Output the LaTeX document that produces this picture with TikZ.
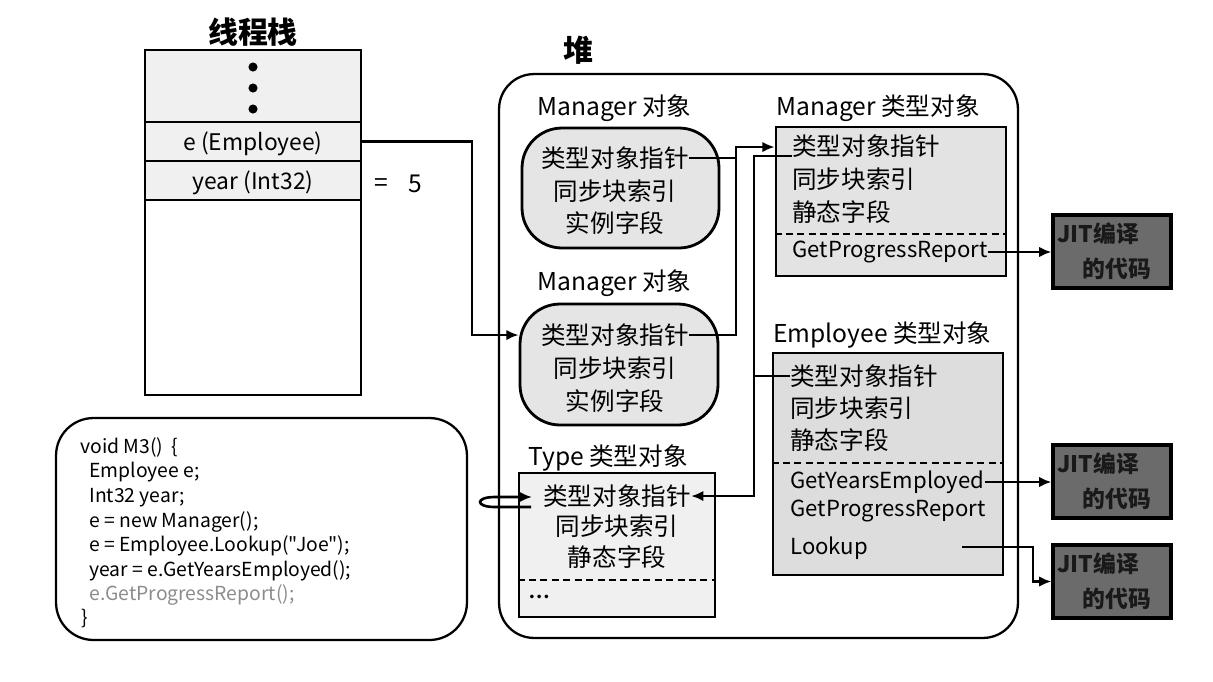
\documentclass[tikz,border=0pt]{standalone}
\usepackage{fontspec}
\setmainfont{Noto Sans CJK SC}
\newfontfamily\codefont[Ligatures=TeXOff]{Noto Sans CJK SC}
\newfontfamily\dotfont{DejaVu Sans}
\usepackage{xcolor}
\usepackage{tikz}
\usetikzlibrary{arrows.meta}

\begin{document}
\begin{tikzpicture}[x=0.02cm, y=-0.02cm, >={Latex[length=7pt,width=6pt]},
    font=\fontsize{14}{16}\selectfont,
    every node/.style={inner sep=0pt},
    title/.style={font=\fontsize{17}{20}\selectfont\bfseries},
    cell/.style={draw, line width=1.6pt, fill=gray!12, minimum width=4.32cm},
    objbox/.style={draw, line width=1.6pt, fill=gray!20, rounded corners=0.8cm},
    typebox/.style={draw, line width=1.6pt, fill=gray!22, minimum width=4.6cm},
    method/.style={anchor=west, font=\fontsize{12.6}{15}\selectfont},
    jitbox/.style={draw, line width=1.8pt, fill=black!58, minimum width=2.36cm, minimum height=1.46cm},
    jittext/.style={align=left, font=\fontsize{13}{20}\selectfont\bfseries, text=black!90},
    sep/.style={dashed, dash pattern=on 4pt off 2.5pt, line width=1.4pt},
    ptr/.style={->, line width=1.5pt},
    code/.style={anchor=base west, font=\codefont\fontsize{11}{13}\selectfont}]
  \useasboundingbox (0,0) rectangle (1213,681);

  % thread stack
  \node [title] (stacktitle) at (253,32) {线程栈};
  \node [draw, line width=1.6pt, fill=white, minimum width=4.32cm, minimum height=6.9cm] (stack) at (253,222.5) {};
  \node [cell, minimum height=1.44cm] (dotcell) at (253,86) {};
  \node [cell, minimum height=0.78cm] (ecell) at (253,141.5) {};
  \node [cell, minimum height=0.78cm] (ycell) at (253,180.5) {};
  \foreach \y in {67,88,109}
    \fill (253,\y) circle [radius=2.6pt];
  \node [font=\fontsize{13}{15}\selectfont] (etext) at (253,144) {e (Employee)};
  \node [font=\fontsize{13}{15}\selectfont] (ytext) at (253,183) {year (Int32)};
  \node (eq) at (381,185) {=};
  \node (five) at (415,184) {5};

  % heap
  \node [title] (heaptitle) at (578,50) {堆};
  \node [draw, line width=1.3pt, rounded corners=0.7cm, minimum width=10.38cm, minimum height=11.28cm] (heap) at (758.5,356) {};

  % Manager objects
  \node [anchor=west] (mo1lbl) at (537,108) {Manager 对象};
  \node [objbox, minimum width=3.94cm, minimum height=2.4cm] (mo1) at (620.5,188) {};
  \node (mo1ptr) at (615,158) {类型对象指针};
  \node (mo1sync) at (615,191) {同步块索引};
  \node (mo1inst) at (615,223) {实例字段};

  \node [anchor=west] (mo2lbl) at (537,283) {Manager 对象};
  \node [objbox, minimum width=3.96cm, minimum height=2.42cm] (mo2) at (619,364.5) {};
  \node (mo2ptr) at (615,335) {类型对象指针};
  \node (mo2sync) at (615,368) {同步块索引};
  \node (mo2inst) at (615,401) {实例字段};

  % Manager type object
  \node [anchor=west] (mtlbl) at (776,108) {Manager 类型对象};
  \node [typebox, minimum height=2.98cm] (mtype) at (891,201.5) {};
  \node [anchor=west] (mtptr) at (792,146) {类型对象指针};
  \node [anchor=west] (mtsync) at (792,179) {同步块索引};
  \node [anchor=west] (mtstat) at (792,212) {静态字段};
  \draw [sep] (mtype.west |- 0,234) -- (mtype.east |- 0,234);
  \node [method] (mtgpr) at (792,252) {GetProgressReport};

  % Employee type object
  \node [anchor=west] (etlbl) at (773,335) {Employee 类型对象};
  \node [typebox, fill=gray!27, minimum height=4.44cm] (etype) at (888,464) {};
  \node [anchor=west] (etptr) at (790,376) {类型对象指针};
  \node [anchor=west] (etsync) at (790,408) {同步块索引};
  \node [anchor=west] (etstat) at (790,440) {静态字段};
  \draw [sep] (etype.west |- 0,463) -- (etype.east |- 0,463);
  \node [method] (etgye) at (790,482) {GetYearsEmployed};
  \node [method] (etgpr) at (790,511) {GetProgressReport};
  \node [method] (etlook) at (790,548) {Lookup};

  % Type type object
  \node [anchor=west] (ttlbl) at (528,458) {Type 类型对象};
  \node [draw, line width=1.6pt, fill=gray!12, minimum width=3.92cm, minimum height=2.88cm] (ttype) at (617,545) {};
  \node (ttptr) at (617,496) {类型对象指针};
  \node (ttsync) at (617,526) {同步块索引};
  \node (ttstat) at (617,557) {静态字段};
  \draw [sep] (ttype.west |- 0,580) -- (ttype.east |- 0,580);
  \node [anchor=west, font=\dotfont\fontsize{7}{8}\selectfont] (ttmore) at (528,598) {•••};

  % method code
  \node [draw, line width=1.3pt, rounded corners=0.75cm, minimum width=8.22cm, minimum height=4.44cm] (codebox) at (261.5,529) {};
  \node [code] (c1) at (80,453) {void M3()\ \ \{};
  \node [code] (c2) at (89,477) {Employee e;};
  \node [code] (c3) at (89,502) {Int32 year;};
  \node [code] (c4) at (89,527) {e = new Manager();};
  \node [code] (c5) at (89,551) {e = Employee.Lookup("Joe");};
  \node [code] (c6) at (89,576) {year = e.GetYearsEmployed();};
  \node [code, text=black!45] (c7) at (89,600) {e.GetProgressReport();};
  \node [code] (c8) at (81,624) {\}};

  % JIT compiled code
  \node [jitbox] (jit1) at (1112,251.5) {};
  \node [jitbox] (jit2) at (1112,481.5) {};
  \node [jitbox] (jit3) at (1112,581.5) {};
  \node [jittext, anchor=west] (jit1t) at (1057,251.5) {JIT编译\\\hspace*{1.1em}的代码};
  \node [jittext, anchor=west] (jit2t) at (1057,481.5) {JIT编译\\\hspace*{1.1em}的代码};
  \node [jittext, anchor=west] (jit3t) at (1057,581.5) {JIT编译\\\hspace*{1.1em}的代码};

  % pointers
  \coordinate (mjoin) at (736,147);
  \coordinate (tjoin) at (754,156);
  \coordinate (tla) at (531,507);
  \coordinate (tlb) at (532,497);
  \coordinate (lkstart) at (962,547);
  \draw [ptr] (ecell.east) -- (472,141.5) |- (mo2.west |- mo2ptr);
  \draw [ptr] (mo2ptr.east) -| (mjoin) -- (mtype.west |- mjoin);
  \draw [line width=1.5pt] (mo1ptr.east) -- (mjoin |- mo1ptr);
  \draw [ptr] (mtptr.west |- tjoin) -- (tjoin) |- (ttptr.east);
  \draw [line width=1.5pt] (etptr.west) -- (tjoin |- etptr);
  \draw [ptr] (tla) -- (495,507) .. controls (475,507) and (475,497) .. (495,497) -- (tlb);
  \draw [ptr] (mtgpr.east) -- (jit1.west |- mtgpr);
  \draw [ptr] (etgye.east) -- (jit2.west |- etgye);
  \draw [ptr] (lkstart) -- (1033,547) |- (jit3.west);
\end{tikzpicture}
\end{document}
